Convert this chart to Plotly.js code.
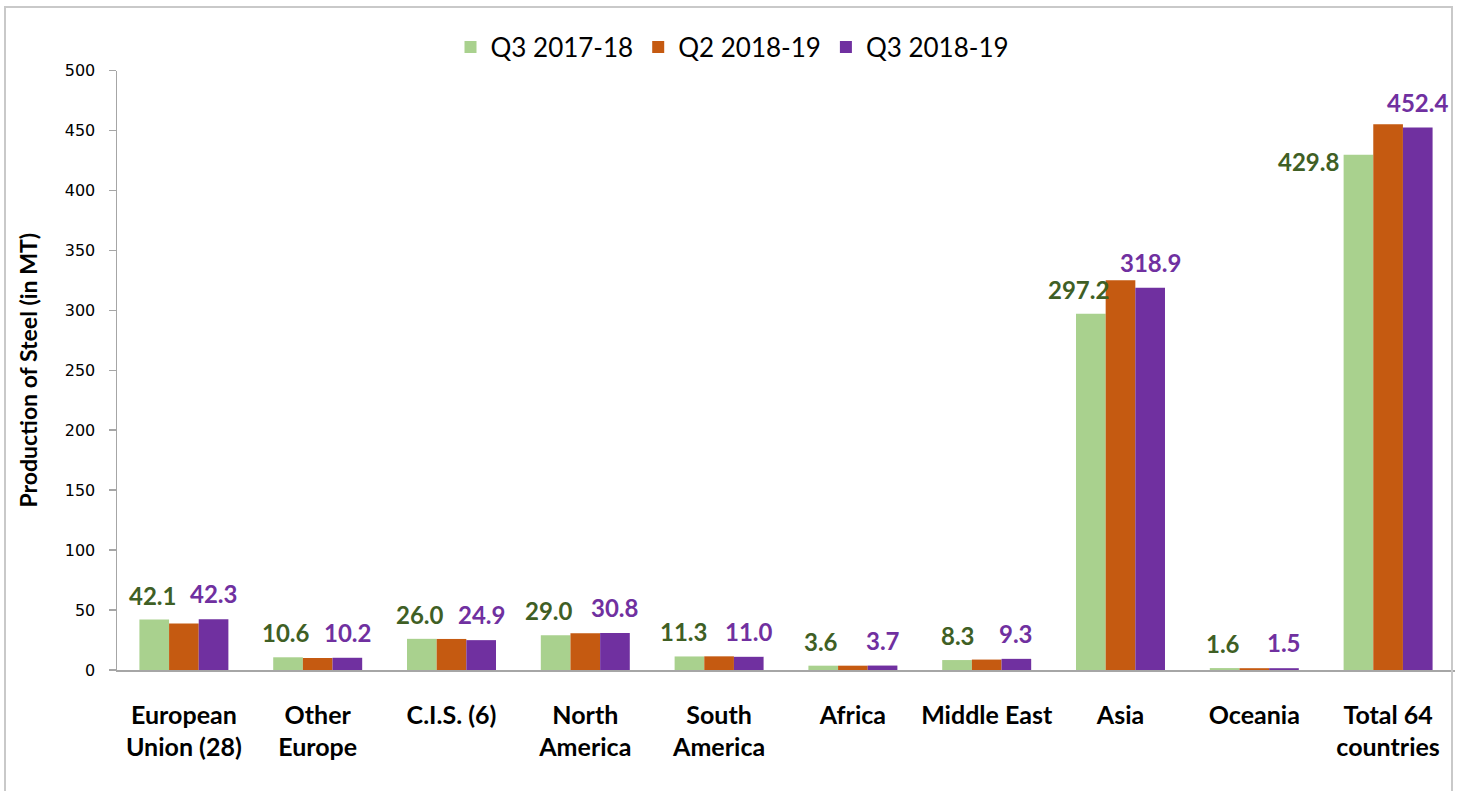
<!DOCTYPE html>
<html>
<head>
<meta charset="utf-8">
<script src="https://cdn.plot.ly/plotly-3.0.1.min.js"></script>
<style>
  html, body { margin: 0; padding: 0; background: #ffffff; overflow: hidden; }
  #chart { width: 1465px; height: 791px; }
  #frame { position: absolute; left: 4px; top: 6px; width: 1449px; height: 830px;
           border: 2px solid #C9C9C9; pointer-events: none; box-sizing: border-box; }
</style>
</head>
<body>
<div id="chart"></div>
<div id="frame"></div>
<script>
const categories = ["European<br>Union (28)", "Other<br>Europe", "C.I.S. (6)", "North<br>America",
  "South<br>America", "Africa", "Middle East", "Asia", "Oceania", "Total 64<br>countries"];
const seriesNames = ["Q3 2017-18", "Q2 2018-19", "Q3 2018-19"];
const q3_2017_18 = [42.1, 10.6, 26.0, 29.0, 11.3, 3.6, 8.3, 297.2, 1.6, 429.8];
const q2_2018_19 = [38.8, 10.0, 25.9, 30.7, 11.4, 3.6, 8.7, 325.0, 1.5, 455.1];
const q3_2018_19 = [42.3, 10.2, 24.9, 30.8, 11.0, 3.7, 9.3, 318.9, 1.5, 452.4];
const yTicks = [0, 50, 100, 150, 200, 250, 300, 350, 400, 450, 500];

const colors = ["#A9D18E", "#C55A11", "#7030A0"];
const labelColors = ["#3F5F25", null, "#7030A0"];
const bargap = 0.335;
const barW = (1 - bargap) / 3;

const idx = categories.map((c, i) => i);
const series = [q3_2017_18, q2_2018_19, q3_2018_19];
const traces = series.map((vals, j) => ({
  type: "bar",
  name: seriesNames[j],
  x: categories,
  y: vals,
  marker: { color: colors[j], line: { width: 0 } },
  hoverinfo: "skip"
}));

const labelFont = (c) => ({ family: "Lato, 'Open Sans', sans-serif", size: 24, color: c, weight: "bold" });
const annotations = [];
idx.forEach(i => {
  const g = q3_2017_18[i], o = q2_2018_19[i];
  const gx = i - barW;
  if (i === categories.length - 1) {
    annotations.push({ x: gx - barW / 2, y: g, xref: "x", yref: "y", text: g.toFixed(1),
      showarrow: false, xanchor: "right", yanchor: "middle", xshift: -3, yshift: -7,
      font: labelFont(labelColors[0]) });
  } else if (o > g) {
    annotations.push({ x: gx + barW / 2, y: g, xref: "x", yref: "y", text: g.toFixed(1),
      showarrow: false, xanchor: "right", yanchor: "bottom", xshift: 5, yshift: 8,
      font: labelFont(labelColors[0]) });
  } else {
    annotations.push({ x: gx, y: g, xref: "x", yref: "y", text: g.toFixed(1),
      showarrow: false, xanchor: "center", yanchor: "bottom", xshift: -2, yshift: 8,
      font: labelFont(labelColors[0]) });
  }
  const p = q3_2018_19[i];
  annotations.push({ x: i + barW, y: p, xref: "x", yref: "y", text: p.toFixed(1),
    showarrow: false, xanchor: "center", yanchor: "bottom", yshift: 9,
    font: labelFont(labelColors[2]) });
});

const layout = {
  width: 1465, height: 791,
  margin: { l: 117, r: 10, t: 69, b: 121 },
  paper_bgcolor: "#ffffff", plot_bgcolor: "#ffffff",
  barmode: "group", bargap: bargap, bargroupgap: 0,
  font: { family: "Lato, sans-serif", color: "#000000" },
  showlegend: true,
  legend: {
    orientation: "h", xref: "container", yref: "container",
    x: 0.5, xanchor: "center", y: 1 - 47 / 791, yanchor: "middle",
    font: { family: "Lato, sans-serif", size: 26, color: "#000000" },
    itemwidth: 30, itemclick: false, traceorder: "normal"
  },
  xaxis: {
    type: "category", showgrid: false, zeroline: false,
    showline: true, linecolor: "#A6A6A6", linewidth: 1.5,
    ticks: "", ticklabelstandoff: 22,
    tickfont: { family: "Lato, sans-serif", size: 25, color: "#000000", weight: "bold" },
    fixedrange: true
  },
  yaxis: {
    range: [0, 500], tickvals: yTicks, ticktext: yTicks.map(String),
    showgrid: false, zeroline: false,
    showline: true, linecolor: "#A6A6A6", linewidth: 1.5,
    ticks: "outside", ticklen: 7, tickcolor: "#A6A6A6", tickwidth: 1.5,
    tickfont: { family: "'DejaVu Sans', sans-serif", size: 16, color: "#000000" },
    ticklabelstandoff: 10,
    title: { text: "Production of Steel (in MT)", standoff: 20,
      font: { family: "Lato, sans-serif", size: 23, color: "#000000", weight: "bold" } },
    fixedrange: true
  },
  annotations: annotations
};

Plotly.newPlot("chart", traces, layout, { displayModeBar: false, staticPlot: true });
</script>
</body>
</html>
